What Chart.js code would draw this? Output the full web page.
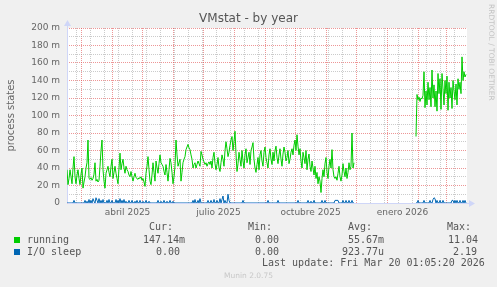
<!DOCTYPE html>
<html><head><meta charset="utf-8">
<script src="https://cdn.jsdelivr.net/npm/chart.js@4.4.1/dist/chart.umd.min.js"></script>
<style>
html,body{margin:0;padding:0;background:#f0f0f0;}
#wrap{position:relative;width:497px;height:287px;overflow:hidden;background:#f0f0f0;}
canvas{position:absolute;left:0;top:0;}
.m{position:absolute;white-space:pre;font-family:"DejaVu Sans Mono",monospace;font-size:10px;line-height:12px;color:#555;}
.sq{position:absolute;width:6px;height:6px;}
#title{position:absolute;left:0;width:497px;top:11px;text-align:center;font-family:"DejaVu Sans",sans-serif;font-size:12px;line-height:14px;color:#555;white-space:pre;}
#side{position:absolute;left:484px;top:4px;font-family:"DejaVu Sans",sans-serif;font-size:7.5px;line-height:9px;color:#c4c4c4;white-space:pre;transform-origin:0 0;transform:translate(12px,0) rotate(90deg);}
#munin{position:absolute;left:0;width:497px;top:271px;text-align:center;font-family:"DejaVu Sans",sans-serif;font-size:7.5px;line-height:10px;color:#c8c8c8;}
</style></head><body>
<div id="wrap">
<canvas id="c" width="497" height="287"></canvas>
<div id="title">VMstat - by year</div>
<div id="side">RRDTOOL / TOBI OETIKER</div>
<div class="m" style="left:149px;top:221px">Cur:</div>
<div class="m" style="left:248px;top:221px">Min:</div>
<div class="m" style="left:348px;top:221px">Avg:</div>
<div class="m" style="left:447px;top:221px">Max:</div>
<div class="sq" style="left:14px;top:237px;background:#00cc00"></div>
<div class="m" style="left:27px;top:234px">running</div>
<div class="m" style="left:143px;top:234px">147.14m</div>
<div class="m" style="left:255px;top:234px">0.00</div>
<div class="m" style="left:348px;top:234px">55.67m</div>
<div class="m" style="left:448px;top:234px">11.04</div>
<div class="sq" style="left:14px;top:249px;background:#0066b3"></div>
<div class="m" style="left:27px;top:246px">I/O sleep</div>
<div class="m" style="left:156px;top:246px">0.00</div>
<div class="m" style="left:255px;top:246px">0.00</div>
<div class="m" style="left:342px;top:246px">923.77u</div>
<div class="m" style="left:453px;top:246px">2.19</div>
<div class="m" style="left:262px;top:257px">Last update: Fri Mar 20 01:05:20 2026</div>
<div id="munin">Munin 2.0.75</div>
</div>
<script>
// ---- data (values in milli-units, "m") ----
const axisStart = '2025-02-15';          // day 0 of the x axis
const axisDays = 400;
// running: one value per day, days 0..287
const runningPart1 = [
 38,21,28,38,30,22,40,53,30,22,32,38,28,21,33,40,17,24,30,40,
 46,72,28,27,29,26,28,33,46,25,27,24,26,42,60,72,38,25,17,34,
 38,42,35,30,42,50,28,35,42,34,28,22,40,57,38,45,50,40,34,42,
 38,36,32,30,36,30,25,30,34,29,28,27,29,28,30,26,28,24,19,34,
 42,53,38,25,21,32,46,35,25,48,40,34,45,55,46,44,42,36,32,44,
 35,25,38,51,46,35,22,30,42,72,55,42,46,50,25,35,46,50,53,61,
 64,67,63,61,55,50,40,44,46,40,44,48,45,42,59,55,50,47,44,46,
 42,45,47,44,
 48,40,52,58,45,38,44,52,40,36,46,55,50,42,60,
 70,62,53,58,66,72,76,60,70,82,56,
 36,45,58,50,42,60,48,40,55,62,46,52,58,44,60,64,69,
 50,40,35,44,52,38,
 55,60,48,42,58,64,52,46,40,55,62,50,44,58,48,60,65,52,
 45,55,62,50,42,56,64,58,48,52,60,45,50,58,62,55,66,
 72,60,78,65,55,
 62,48,40,58,52,45,60,38,50,56,42,36,48,40,32,
 42,28,35,22,30,25,12,28,
 38,30,45,52,35,28,42,50,40,61,38,30,
 28,30,26,34,42,30,25,32,45,36,30,40,28,35,46,38,42,
 80,40,46
];
const part2Start = 349;
// running: days 349..399
const runningPart2 = [
 76,124,118,121,116,120,119,123,150,109,128,112,138,118,132,110,152,120,135,110,
 128,105,148,125,142,107,148,130,112,140,125,145,106,138,120,132,108,140,128,118,
 136,112,142,130,138,125,167,140,150,144,147
];
// I/O sleep: [day, value]; every other day with data reads 0
const ioSleepSpikes = [
 [7,3],[18,3],[20,2],[22,4],[24,3],[26,5],[27,2],[29,6],[30,3],[32,5],[34,3],[36,4],
 [40,3],[42,4],[45,3],[49,4],[51,3],[53,5],[55,3],[57,4],[59,2],
 [62,3],[65,3],[68,2],[70,3],[73,3],[76,2],[79,3],[82,2],
 [91,3],[94,2],[97,3],[100,2],[103,3],[106,2],
 [126,3],[128,4],[131,3],[133,5],
 [141,3],[144,3],[147,4],[150,3],[153,5],[155,4],[156,8],[158,3],[161,10],[162,3],
 [176,3],[201,3],[211,3],[231,3],[241,3],[244,2],[247,3],[255,3],[258,3],
 [268,3],[269,3],[270,3],[271,3],[276,3],[279,3],[282,3],[285,3],
 [351,3],[357,3],[363,3],[366,4],[367,6],[368,5],[370,3],[373,3],[376,3],
 [385,3],[386,3],[388,3],[390,3],[393,3],[396,3],[398,3]
];
const monthStartDates = ['2025-03-01','2025-04-01','2025-05-01','2025-06-01','2025-07-01','2025-08-01','2025-09-01','2025-10-01','2025-11-01','2025-12-01','2026-01-01','2026-02-01','2026-03-01'];
const xLabelTexts = ['abril 2025','julio 2025','octubre 2025','enero 2026'];
const xLabelDates = ['2025-04-16','2025-07-16','2025-10-16','2026-01-16'];
const yTickValues = [0,10,20,30,40,50,60,70,80,90,100,110,120,130,140,150,160,170,180,190,200];

// ---- build ----
const dayOf = s => Math.round((Date.parse(s+'T00:00:00Z') - Date.parse(axisStart+'T00:00:00Z'))/86400000);
const runningData = [], ioData = [];
const ioMap = new Map(ioSleepSpikes);
const dataSet = new Set();
runningPart1.forEach((v,i)=>{ runningData.push({x:i,y:v}); dataSet.add(i); });
for (let d = runningPart1.length; d < part2Start; d++) runningData.push({x:d,y:null});
runningPart2.forEach((v,i)=>{ runningData.push({x:part2Start+i,y:v}); dataSet.add(part2Start+i); });
for (let d = 0; d < axisDays; d++) ioData.push({x:d, y: dataSet.has(d) ? (ioMap.get(d) || 0) : null});

const MAJOR = 'rgba(225,80,80,0.6)', MINOR = 'rgba(160,160,160,0.55)', AXIS = '#cfd6f8';
const tickType = new Map();
const labelAt = new Map();
for (let d = 9; d < axisDays; d += 14) tickType.set(d,'minor');
monthStartDates.forEach(s => tickType.set(dayOf(s),'major'));
xLabelDates.forEach((s,i) => { const d = dayOf(s)+0.5; tickType.set(d,'label'); labelAt.set(d, xLabelTexts[i]); });
const xTicks = [...tickType.keys()].sort((a,b)=>a-b);

const FONT = '#666666';
Chart.defaults.font.family = 'DejaVu Sans';

const bgPlugin = {
  id:'bg',
  beforeDraw(chart){
    const {ctx, chartArea:a} = chart;
    ctx.save(); ctx.fillStyle = '#ffffff';
    ctx.fillRect(a.left, a.top, a.right-a.left, a.bottom-a.top);
    ctx.restore();
  },
  beforeDatasetsDraw(chart){
    const {ctx, chartArea:a} = chart;
    ctx.save();
    ctx.strokeStyle = AXIS; ctx.fillStyle = AXIS; ctx.lineWidth = 1;
    const x0 = Math.round(a.left)+0.5, y0 = Math.round(a.bottom)+0.5;
    ctx.beginPath(); ctx.moveTo(x0, y0); ctx.lineTo(x0, a.top-5); ctx.stroke();
    ctx.beginPath(); ctx.moveTo(x0-3.5, a.top-2); ctx.lineTo(x0+3.5, a.top-2); ctx.lineTo(x0, a.top-8); ctx.closePath(); ctx.fill();
    ctx.beginPath(); ctx.moveTo(x0, y0); ctx.lineTo(a.right+3, y0); ctx.stroke();
    ctx.beginPath(); ctx.moveTo(a.right+2, y0-3.5); ctx.lineTo(a.right+2, y0+3.5); ctx.lineTo(a.right+8, y0); ctx.closePath(); ctx.fill();
    ctx.restore();
  }
};

new Chart(document.getElementById('c'), {
  type:'line',
  data:{ datasets:[
    {label:'running', data:runningData, borderColor:'#00cc00', borderWidth:1, pointRadius:0, tension:0, spanGaps:false, order:1},
    {label:'I/O sleep', data:ioData, borderColor:'#0066b3', borderWidth:1, pointRadius:0, tension:0, spanGaps:false, order:0}
  ]},
  options:{
    responsive:false, animation:false, devicePixelRatio:1,
    layout:{padding:{top:28, right:30, left:0, bottom:0}},
    plugins:{legend:{display:false}, tooltip:{enabled:false}, title:{display:false}},
    scales:{
      x:{
        type:'linear', min:0, max:axisDays,
        afterBuildTicks: s => { s.ticks = xTicks.map(v=>({value:v})); },
        afterFit: s => { s.height = 84; },
        grid:{ drawTicks:false, lineWidth:1,
          color: ctx => { const t = tickType.get(ctx.tick && ctx.tick.value); return t==='major'?MAJOR:(t==='minor'?MINOR:'rgba(0,0,0,0)'); } },
        border:{display:false, dash:[1,1]},
        ticks:{ autoSkip:false, maxRotation:0, minRotation:0, padding:4, color:FONT, font:{size:9},
          callback: v => labelAt.get(v) || '' }
      },
      y:{
        min:0, max:200,
        afterBuildTicks: s => { s.ticks = yTickValues.map(v=>({value:v})); },
        afterFit: s => { s.width = 67; },
        grid:{ drawTicks:false, lineWidth:1,
          color: ctx => (ctx.tick && ctx.tick.value % 20 === 0) ? MAJOR : MINOR },
        border:{display:false, dash:[1,1]},
        ticks:{ autoSkip:false, padding:7, color:FONT, font:{size:9},
          callback: v => v % 20 === 0 ? (v === 0 ? '0' : v + ' m') : '' },
        title:{ display:true, text:'process states', color:FONT, font:{size:10}, padding:{top:5,bottom:0} }
      }
    }
  },
  plugins:[bgPlugin]
});
</script>
</body></html>
